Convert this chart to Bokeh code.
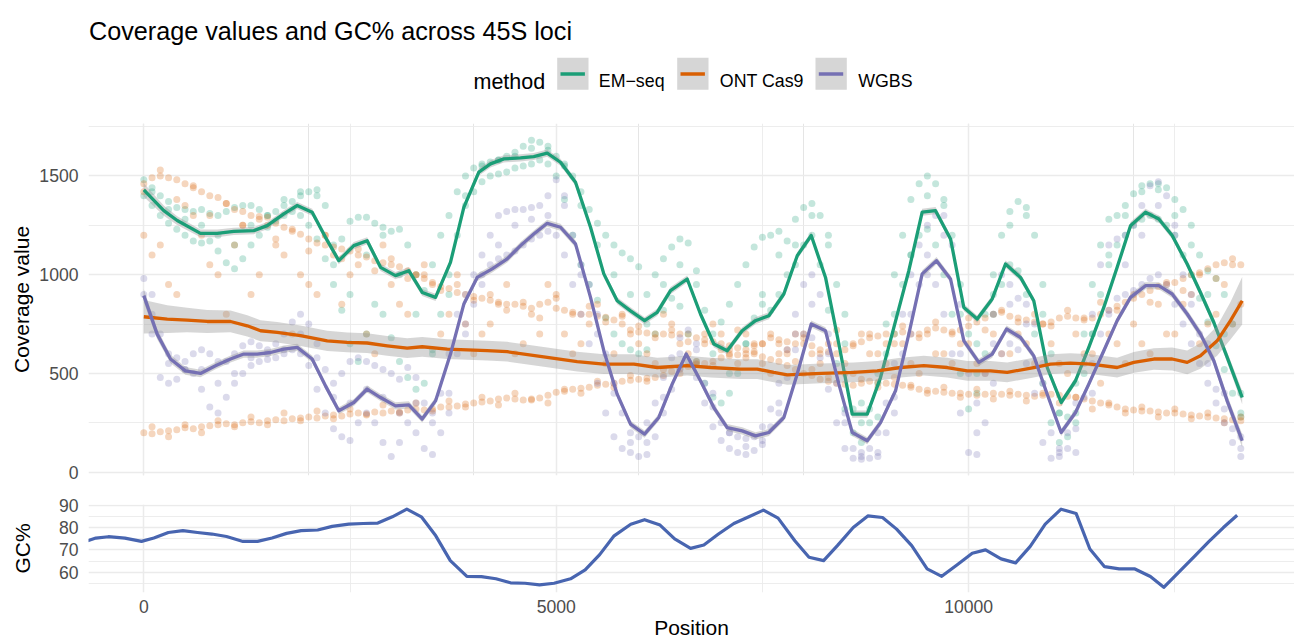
from bokeh.plotting import figure
from bokeh.layouts import column
from bokeh.models import FixedTicker, Range1d, Grid, ColumnDataSource
from bokeh.embed import file_html
from bokeh.resources import INLINE
from bokeh.core.properties import value

FONT = "Liberation Sans"
TITLE = "Coverage values and GC% across 45S loci"
METHODS = ["EM−seq", "ONT Cas9", "WGBS"]
COLORS = ["#1B9E77", "#D95F02", "#7570B3"]
GC_COLOR = "#4865B0"

# ---------------- point traces (coverage per position) ----------------
POS = list(range(0, 13301, 100))
POS_SPARSE_A = list(range(0, 13201, 200))
POS_SPARSE_B = list(range(100, 13301, 200))

EM_A = [1480, 1440, 1400, 1370, 1340, 1330, 1320, 1330, 1310, 1300,
        1320, 1340, 1350, 1350, 1330, 1300, 1320, 1350, 1370, 1400,
        1420, 1430, 1350, 1150, 1180, 1270, 1290, 1290, 1260, 1240,
        1220, 1230, 1150, 1000, 920, 1050, 1200, 1300, 1420, 1500,
        1540, 1560, 1570, 1580, 1600, 1620, 1650, 1680, 1670, 1630,
        1600, 1560, 1500, 1420, 1330, 1260, 1200, 1150, 1110, 1080,
        1040, 900, 1000, 1080, 1140, 1180, 1160, 1020, 820, 700,
        760, 850, 950, 1050, 1140, 1190, 1200, 1220, 1170, 1280,
        1340, 1360, 1300, 1150, 950, 650, 320, 250, 320, 500,
        750, 1000, 1200, 1380, 1460, 1500, 1460, 1380, 1200, 950,
        700, 650, 800, 1000, 1200, 1320, 1370, 1340, 1200, 950,
        600, 300, 280, 450, 700, 950, 1150, 1280, 1300, 1350,
        1410, 1450, 1460, 1460, 1440, 1380, 1330, 1250, 1100, 1020,
        980, 900, 750, 400]
EM_B = [1400, 1350, 1300, 1260, 1230, 1200, 1170, 1160, 1170, 1120,
        1060, 1030, 1080, 1150, 1200, 1240, 1270, 1300, 1320, 1300,
        1250, 1180, 1080, 950, 820, 650, 560, 700, 850, 800,
        680, 560, 480, 420, 450, 620, 800, 1000, 1200, 1350,
        1420, 1470, 1500, 1510, 1520, 1540, 1550, 1560, 1580, 1560,
        1500, 1380, 1200, 1050, 950, 870, 780, 700, 650, 620,
        600, 620, 700, 820, 880, 840, 700, 560, 450, 380,
        350, 400, 500, 650, 780, 850, 820, 900, 1000, 1050,
        1150, 1200, 1050, 820, 550, 320, 200, 150, 250, 450,
        600, 800, 950, 1100, 1200, 1230, 1150, 1000, 800, 500,
        320, 400, 600, 800, 950, 1050, 1020, 900, 700, 450,
        250, 150, 180, 300, 500, 700, 900, 1050, 1150, 1200,
        1250, 1280, 1300, 1280, 1250, 1200, 1100, 1000, 880, 760,
        640, 520, 400, 280]
EM_C = [1420, 1330, 1280, 1250, 1200, 1150, 1250, 1300, 1380, 1420,
        1400, 1050, 900, 1100, 1200, 1000, 800, 600, 900, 1400,
        1550, 1580, 1600, 1640, 1650, 1550, 1350, 1150, 1000, 900,
        750, 950, 1050, 950, 600, 500, 650, 900, 1100, 1150,
        1300, 1200, 800, 350, 280, 700, 1100, 1400, 1350, 800,
        500, 900, 1250, 1300, 800, 300, 250, 700, 1100, 1300,
        1420, 1430, 1300, 1150, 900, 700, 300]
WGBS_A = [980, 900, 700, 600, 580, 560, 600, 620, 600, 560,
          560, 600, 640, 660, 640, 620, 650, 700, 760, 800,
          750, 650, 520, 450, 500, 560, 580, 560, 540, 520,
          500, 470, 530, 480, 350, 300, 400, 600, 800, 900,
          1000, 1100, 1200, 1300, 1320, 1330, 1330, 1340, 1350, 1400,
          1480, 1400, 1200, 1050, 950, 800, 600, 450, 300, 200,
          180, 250, 350, 480, 580, 680, 720, 620, 450, 330,
          250, 200, 180, 170, 180, 230, 320, 450, 620, 800,
          950, 1000, 900, 700, 450, 250, 120, 100, 120, 200,
          350, 550, 800, 1000, 1150, 1250, 1300, 1300, 1150, 850,
          500, 350, 500, 800, 1000, 950, 880, 850, 750, 450,
          200, 120, 200, 350, 550, 800, 1050, 1150, 1180, 1200,
          1250, 1350, 1450, 1470, 1400, 1200, 1000, 850, 700, 550,
          420, 320, 220, 120]
WGBS_B = [900, 700, 480, 450, 470, 520, 500, 420, 330, 300,
          380, 450, 500, 540, 560, 570, 580, 600, 620, 600,
          540, 420, 300, 220, 180, 160, 250, 300, 250, 150,
          80, 150, 250, 200, 120, 90, 200, 400, 600, 750,
          850, 950, 1050, 1080, 1100, 1120, 1150, 1180, 1200, 1220,
          1200, 1100, 950, 800, 650, 450, 300, 180, 120, 100,
          80, 90, 180, 300, 420, 520, 560, 480, 350, 230,
          160, 120, 100, 90, 110, 160, 230, 350, 480, 620,
          700, 680, 580, 420, 250, 120, 70, 65, 70, 100,
          200, 380, 600, 800, 950, 1000, 950, 800, 600, 300,
          100, 90, 250, 450, 600, 650, 620, 550, 400, 150,
          70, 80, 120, 220, 380, 550, 700, 820, 880, 900,
          920, 950, 980, 1000, 950, 850, 750, 650, 550, 450,
          350, 250, 150, 80]
WGBS_C = [800, 550, 520, 520, 450, 500, 580, 600, 620, 700,
          580, 380, 350, 420, 380, 300, 350, 250, 300, 700,
          1000, 1150, 1250, 1280, 1300, 1350, 1000, 700, 400, 150,
          150, 380, 600, 650, 400, 200, 130, 140, 300, 700,
          850, 600, 300, 80, 80, 300, 700, 1100, 1200, 600,
          200, 650, 850, 750, 550, 100, 100, 400, 800, 1050,
          1200, 1350, 1250, 900, 650, 400, 180]
ONT_A = [1460, 1490, 1500, 1490, 1480, 1460, 1440, 1420, 1400, 1390,
         1360, 1330, 1320, 1300, 1295, 1290, 1260, 1240, 1220, 1205,
         1180, 1160, 1150, 1140, 1130, 1120, 1100, 1090, 1070, 1060,
         1050, 1040, 1020, 1000, 980, 960, 940, 930, 910, 900,
         890, 880, 870, 860, 850, 850, 840, 830, 850, 860,
         830, 820, 810, 800, 800, 790, 785, 770, 750, 720,
         710, 705, 700, 700, 695, 700, 700, 680, 670, 660,
         650, 640, 630, 620, 610, 650, 680, 670, 660, 650,
         650, 640, 620, 610, 600, 620, 650, 660, 680, 690,
         700, 700, 710, 700, 700, 720, 730, 720, 710, 720,
         740, 760, 780, 800, 810, 790, 780, 770, 760, 750,
         760, 780, 790, 780, 770, 780, 800, 820, 840, 860,
         880, 900, 920, 940, 950, 960, 980, 1000, 1010, 1030,
         1050, 1060, 1080, 1050]
ONT_B = [200, 195, 205, 210, 215, 225, 220, 230, 235, 240,
         245, 240, 250, 255, 250, 260, 265, 260, 270, 275,
         280, 275, 285, 290, 285, 295, 300, 295, 305, 300,
         310, 305, 315, 320, 315, 320, 330, 330, 335, 345,
         350, 355, 360, 370, 375, 370, 365, 365, 375, 390,
         405, 410, 420, 425, 430, 440, 445, 450, 460, 465,
         470, 475, 480, 490, 510, 525, 535, 545, 550, 560,
         580, 590, 595, 600, 600, 585, 570, 560, 540, 520,
         500, 490, 470, 460, 450, 445, 440, 450, 460, 455,
         450, 445, 440, 430, 420, 415, 410, 405, 400, 400,
         395, 390, 395, 400, 395, 390, 395, 390, 385, 390,
         395, 390, 385, 380, 370, 360, 350, 340, 330, 320,
         315, 310, 310, 305, 300, 300, 295, 290, 285, 280,
         275, 270, 265, 260]
ONT_C = [1200, 1150, 900, 1300, 1050, 800, 1250, 1000, 1150, 700,
         950, 1200, 850, 1050, 600, 950, 800, 1050, 700, 1000,
         600, 750, 950, 650, 700, 900, 600, 750, 550, 800,
         650, 550, 750, 600, 650, 700, 550, 650, 500, 600,
         700, 550, 650, 500, 600, 550, 650, 500, 600, 550,
         650, 500, 600, 700, 550, 650, 500, 600, 450, 650,
         750, 600, 700, 850, 650, 800, 750]
ONT_D = [1100, 950, 1350, 1200, 1000, 1150, 900, 1250, 1100, 1000,
         900, 1100, 1000, 700, 1150, 850, 1000, 950, 800, 750,
         700, 850, 600, 800, 950, 700, 650, 850, 600, 700,
         600, 800, 650, 550, 750, 600, 700, 550, 650, 700,
         600, 650, 550, 700, 600, 650, 550, 700, 600, 650,
         550, 700, 600, 650, 750, 550, 700, 600, 700, 550,
         650, 850, 700, 900, 750, 950, 850]
ONT_E = [230, 180, 240, 200, 260, 230, 280, 240, 300, 260,
         310, 270, 320, 290, 340, 300, 350, 310, 360, 330,
         380, 340, 400, 370, 350, 420, 400, 460, 430, 490,
         460, 520, 500, 560, 540, 620, 580, 650, 600, 560,
         520, 480, 500, 470, 430, 480, 440, 400, 430, 380,
         420, 370, 410, 360, 400, 350, 380, 320, 350, 300,
         330, 280, 320, 270, 300, 250, 280]
ONT_F = [1420, 1530, 1380, 1450, 1300, 1360, 1250, 1280, 1180, 1230,
         1120, 1200, 1080, 1130, 1020, 1080, 980, 1000, 920, 950,
         870, 900, 820, 860, 780, 880, 800, 840, 760, 790,
         740, 680, 720, 660, 700, 620, 720, 640, 700, 620,
         680, 600, 720, 640, 700, 650, 740, 680, 760, 700,
         780, 720, 820, 760, 800, 740, 820, 780, 860, 820,
         900, 860, 960, 920, 1000, 980, 1050]

# ---------------- smoothed fits (value, 95% CI half-width) ----------------
EM_SX = [0, 242, 405, 687, 890, 1091, 1334, 1496, 1697, 1860, 2041, 2203, 2364, 2546, 2708,
         2870, 3051, 3213, 3375, 3537, 3718, 3880, 4062, 4203, 4365, 4567, 4728, 4891, 5052,
         5234, 5416, 5577, 5739, 5901, 6071, 6224, 6386, 6588, 6749, 6911, 7073, 7255, 7416,
         7578, 7760, 7922, 8092, 8265, 8427, 8589, 8771, 8932, 9094, 9275, 9437, 9599, 9781,
         9942, 10104, 10286, 10447, 10629, 10790, 10953, 11122, 11296, 11457, 11639, 11801,
         11963, 12145, 12306, 12468, 12650, 12811, 12973, 13135, 13317]
EM_SY = [1429, 1324, 1274, 1209, 1209, 1219, 1223, 1248, 1308, 1350, 1316, 1189, 1071, 1147, 1172,
         1037, 995, 1020, 910, 885, 1062, 1341, 1519, 1561, 1586, 1591, 1598, 1615, 1569,
         1468, 1240, 1004, 868, 817, 767, 809, 919, 978, 801, 649, 615, 716, 767,
         792, 902, 1096, 1198, 986, 649, 294, 294, 479, 733, 1020, 1316, 1324, 1181,
         834, 775, 877, 1054, 986, 868, 530, 353, 463, 632, 834, 1037,
         1248, 1316, 1282, 1198, 1054, 910, 758, 581, 378]
EM_CI = [34, 26, 22, 20, 19, 18, 18, 18, 18, 18, 18, 18, 18, 18, 18,
         18, 18, 18, 18, 18, 18, 18, 18, 18, 18, 18, 18, 18, 18,
         18, 18, 18, 18, 18, 18, 18, 18, 18, 18, 18, 18, 18, 18,
         18, 18, 18, 18, 18, 18, 18, 18, 18, 18, 18, 18, 18, 18,
         18, 18, 18, 18, 18, 18, 18, 18, 18, 18, 18, 18,
         18, 18, 18, 18, 19, 20, 22, 26, 34]

WGBS_SX = [0, 162, 324, 505, 687, 869, 1051, 1212, 1375, 1536, 1697, 1860, 2041, 2203, 2364,
           2546, 2708, 2870, 3051, 3213, 3375, 3537, 3718, 3880, 4042, 4224, 4406, 4567, 4728,
           4891, 5052, 5234, 5416, 5577, 5739, 5901, 6071, 6244, 6406, 6576, 6749, 6911, 7073,
           7255, 7416, 7578, 7760, 7922, 8092, 8265, 8427, 8589, 8771, 8932, 9114, 9275, 9437,
           9611, 9781, 9942, 10124, 10286, 10460, 10629, 10790, 10953, 11122, 11296, 11457,
           11639, 11801, 11963, 12145, 12306, 12468, 12650, 12811, 12973, 13135, 13317]
WGBS_SY = [894, 699, 573, 513, 500, 539, 573, 598, 598, 606, 623, 632, 573, 437, 311,
           353, 421, 378, 336, 341, 269, 361, 598, 851, 986, 1029, 1080, 1147, 1206,
           1260, 1240, 1156, 885, 615, 395, 243, 193, 277, 446, 598, 463, 327, 226,
           209, 184, 201, 277, 497, 750, 716, 446, 201, 159, 251, 412, 699, 1004,
           1071, 978, 665, 556, 598, 725, 682, 589, 395, 201, 302, 446,
           615, 767, 885, 944, 944, 902, 801, 699, 564, 361, 159]
WGBS_CI = [34, 26, 22, 20, 19, 18, 18, 18, 18, 18, 18, 18, 18, 18, 18,
           18, 18, 18, 18, 18, 18, 18, 18, 18, 18, 18, 18, 18, 18,
           18, 18, 18, 18, 18, 18, 18, 18, 18, 18, 18, 18, 18, 18,
           18, 18, 18, 18, 18, 18, 18, 18, 18, 18, 18, 18, 18, 18,
           18, 18, 18, 18, 18, 18, 18, 18, 18, 18, 18, 18,
           18, 18, 18, 18, 18, 19, 20, 22, 24, 28, 34]

ONT_SX = [0, 284, 526, 769, 1051, 1254, 1415, 1617, 1900, 2224, 2466, 2708, 2951, 3193, 3375,
          3678, 4163, 4406, 4891, 5254, 5577, 5941, 6224, 6426, 6588, 6871, 7235, 7437, 7638,
          7801, 8213, 8608, 8892, 9175, 9457, 9741, 9983, 10265, 10468, 10790, 10993, 11236,
          11479, 11801, 12003, 12246, 12468, 12650, 12811, 13013, 13175, 13317]
ONT_SY = [787, 775, 770, 763, 763, 741, 716, 708, 691, 665, 657, 654, 640, 628, 635,
          623, 615, 610, 581, 560, 547, 547, 530, 535, 539, 530, 522, 522, 505,
          493, 500, 505, 513, 530, 539, 530, 513, 513, 505, 530, 547, 552,
          547, 530, 556, 573, 573, 556, 589, 665, 767, 868]
ONT_CI = [85, 70, 62, 58, 55, 54, 53, 52, 52, 51, 50, 50, 50, 50, 50,
          50, 50, 50, 50, 50, 50, 50, 50, 50, 50, 50, 50, 50, 50,
          50, 50, 50, 50, 50, 50, 50, 50, 50, 50, 50, 50, 50,
          50, 50, 52, 55, 58, 60, 65, 75, 95, 120]

# ---------------- GC% ----------------
GC_X = [-680, -581, -430, -229, -28, 122, 298, 474, 650, 826, 1003, 1203, 1379, 1555, 1731,
        1907, 2108, 2284, 2485, 2661, 2837, 3013, 3189, 3365, 3540, 3716, 3917, 4093, 4269,
        4446, 4622, 4798, 4974, 5174, 5351, 5527, 5702, 5904, 6071, 6259, 6436, 6629, 6790,
        6967, 7154, 7336, 7513, 7690, 7893, 8065, 8242, 8409, 8601, 8778, 8956, 9127, 9310,
        9497, 9674, 9862, 10044, 10205, 10393, 10570, 10747, 10929, 11121, 11303, 11470,
        11648, 11825, 12016, 12204, 12366, 12558, 12735, 12912, 13089, 13256]
GC_Y = [74.1, 75.3, 75.9, 75.3, 73.8, 75.3, 77.8, 78.6, 77.8, 77.1, 76.0, 73.8, 73.8, 75.3, 77.4,
        78.6, 78.9, 80.5, 81.5, 81.8, 82.0, 84.8, 88.2, 84.8, 76.3, 65.2, 58.2, 58.1, 57.1,
        55.3, 55.1, 54.4, 55.1, 57.1, 61.1, 67.9, 76.3, 81.5, 83.5, 81.1, 74.9, 70.7, 72.2,
        77.1, 81.8, 84.8, 87.8, 84.2, 74.1, 66.7, 65.2, 71.9, 80.0, 85.2, 84.5, 79.3, 71.9,
        61.5, 58.2, 63.4, 68.5, 70.0, 66.0, 64.2, 71.6, 81.5, 88.2, 86.3, 70.4,
        62.5, 61.5, 61.5, 58.1, 53.3, 60.4, 67.0, 73.7, 80.0, 85.5]

COV_TICKS = [0, 500, 1000, 1500]
COV_MINOR = [250, 750, 1250, 1750]
GC_TICKS = [60, 70, 80, 90]
GC_MINOR = [55, 65, 75, 85]
POS_TICKS = [0, 5000, 10000]
POS_MINOR = [2500, 7500, 12500]

GRID = "#EBEBEB"
TICK_TXT = "#4D4D4D"

LEFT = 88
FRAME_W = 1206
X_RANGE = Range1d(-670.5, 13951)


def style_axis(ax, standoff_label):
    ax.axis_line_color = None
    ax.major_tick_line_color = None
    ax.minor_tick_line_color = None
    ax.major_tick_out = 0
    ax.major_tick_in = 0
    ax.minor_tick_out = 0
    ax.minor_tick_in = 0
    ax.major_label_text_font = FONT
    ax.major_label_text_font_size = "17.6px"
    ax.major_label_text_color = TICK_TXT
    ax.axis_label_text_font = FONT
    ax.axis_label_text_font_size = "21px"
    ax.axis_label_text_font_style = "normal"
    ax.axis_label_text_color = "black"
    ax.axis_label_standoff = standoff_label


# ---------------- header (title + legend); header coordinates are page pixels ----------------
HEAD_H = 104
header = figure(frame_width=FRAME_W, frame_height=HEAD_H,
                x_range=Range1d(LEFT, LEFT + FRAME_W), y_range=Range1d(HEAD_H, 0),
                toolbar_location=None, output_backend="svg",
                min_border_left=LEFT, min_border_right=0, min_border_top=0, min_border_bottom=0,
                x_axis_location=None, y_axis_location=None, outline_line_color=None)
header.grid.visible = False
header.text(x=[88.5], y=[30.7], text=[TITLE], text_font=value(FONT), text_font_size="25.2px",
            text_baseline="alphabetic", text_align="left", text_color="black")
header.text(x=[473], y=[81.5], text=["method"], text_font=value(FONT), text_font_size="21.5px",
            text_baseline="alphabetic", text_align="left", text_color="black")
KEY_L = [556.7, 676.7, 815]
LAB_X = [598.3, 719.3, 857.7]
header.quad(left=KEY_L, right=[k + 31.3 for k in KEY_L], top=[57.3] * 3, bottom=[89.3] * 3,
            fill_color="#999999", fill_alpha=0.4, line_color=None)
header.segment(x0=[k + 3.3 for k in KEY_L], x1=[k + 27.7 for k in KEY_L], y0=[73.5] * 3, y1=[73.5] * 3,
               line_color=COLORS, line_width=3.3)
header.text(x=LAB_X, y=[80.3] * 3, text=METHODS, text_font=value(FONT), text_font_size="17.8px",
            text_baseline="alphabetic", text_align="left", text_color="black")

# ---------------- main coverage panel ----------------
main = figure(frame_width=FRAME_W, frame_height=352, x_range=X_RANGE, y_range=Range1d(-16.7, 1765.2),
              toolbar_location=None, output_backend="svg", x_axis_location=None,
              min_border_left=LEFT, min_border_right=0, min_border_top=19, min_border_bottom=14,
              outline_line_color=None)
main.yaxis.ticker = FixedTicker(ticks=COV_TICKS, minor_ticks=COV_MINOR)
main.yaxis.axis_label = "Coverage value"
main.yaxis.major_label_standoff = 10
style_axis(main.yaxis[0], 3)
main.ygrid.grid_line_color = GRID
main.ygrid.grid_line_width = 1.5
main.ygrid.minor_grid_line_color = GRID
main.ygrid.minor_grid_line_width = 0.9
main.add_layout(Grid(dimension=0, ticker=FixedTicker(ticks=POS_TICKS, minor_ticks=POS_MINOR),
                     grid_line_color=GRID, grid_line_width=1.5,
                     minor_grid_line_color=GRID, minor_grid_line_width=0.9))

traces = {
    "EM−seq": [(POS, EM_A), (POS, EM_B), (POS_SPARSE_B, EM_C)],
    "ONT Cas9": [(POS, ONT_A), (POS, ONT_B), (POS_SPARSE_A, ONT_C), (POS_SPARSE_B, ONT_D),
                 (POS_SPARSE_B, ONT_E), (POS_SPARSE_A, ONT_F)],
    "WGBS": [(POS, WGBS_A), (POS, WGBS_B), (POS_SPARSE_B, WGBS_C)],
}
for m, c in zip(METHODS, COLORS):
    xs, ys = [], []
    for px, py in traces[m]:
        xs += px
        ys += py
    src = ColumnDataSource(dict(x=xs, y=ys))
    main.scatter("x", "y", source=src, size=7, fill_color=c, fill_alpha=0.26, line_color=None)

smooths = {
    "EM−seq": (EM_SX, EM_SY, EM_CI),
    "ONT Cas9": (ONT_SX, ONT_SY, ONT_CI),
    "WGBS": (WGBS_SX, WGBS_SY, WGBS_CI),
}
for m, c in zip(METHODS, COLORS):
    sx, sy, ci = smooths[m]
    main.varea(x=sx, y1=[a - b for a, b in zip(sy, ci)], y2=[a + b for a, b in zip(sy, ci)],
               fill_color="#999999", fill_alpha=0.4)
    main.line(sx, sy, line_color=c, line_width=3.3, line_join="round")

# ---------------- GC% panel ----------------
gc = figure(frame_width=FRAME_W, frame_height=88, x_range=X_RANGE, y_range=Range1d(50.97, 90.3),
            toolbar_location=None, output_backend="svg",
            min_border_left=LEFT, min_border_right=0, min_border_top=15, min_border_bottom=0,
            outline_line_color=None)
gc.yaxis.ticker = FixedTicker(ticks=GC_TICKS, minor_ticks=GC_MINOR)
gc.xaxis.ticker = FixedTicker(ticks=POS_TICKS, minor_ticks=POS_MINOR)
gc.yaxis.axis_label = "GC%"
gc.xaxis.axis_label = "Position"
gc.yaxis.major_label_standoff = 10
gc.xaxis.major_label_standoff = 7
style_axis(gc.yaxis[0], 22)
style_axis(gc.xaxis[0], 0)
for g in (gc.xgrid[0], gc.ygrid[0]):
    g.grid_line_color = GRID
    g.grid_line_width = 1.5
    g.minor_grid_line_color = GRID
    g.minor_grid_line_width = 0.9
gc.line(GC_X, GC_Y, line_color=GC_COLOR, line_width=3.2, line_join="round")

layout = column(header, main, gc, spacing=0)
open("out.html", "w").write(file_html(layout, INLINE))
